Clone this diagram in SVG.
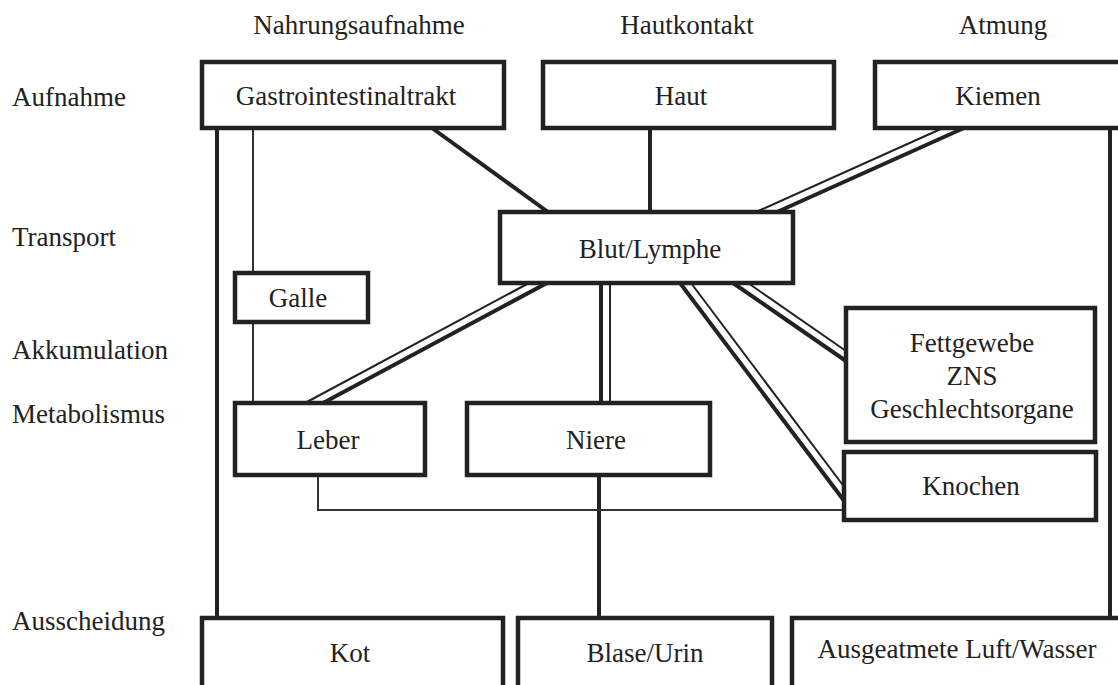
<svg xmlns="http://www.w3.org/2000/svg" width="1118" height="685" viewBox="0 0 1118 685">
<style>
text{font-family:"Liberation Serif","Times New Roman",serif;font-size:27px;fill:#222;}
.c{text-anchor:middle;}
.box{fill:#fff;stroke:#222;stroke-width:4.5;}
.thick{stroke:#222;stroke-width:4;fill:none;}
.thin{stroke:#333;stroke-width:2;fill:none;}
.dthin{stroke:#222;stroke-width:2;fill:none;}
</style>
<rect width="1118" height="685" fill="#fff"/>
<g id="labels">
<text class="c" x="359" y="34">Nahrungsaufnahme</text>
<text class="c" x="687" y="34">Hautkontakt</text>
<text class="c" x="1003" y="34">Atmung</text>
<text x="12" y="106">Aufnahme</text>
<text x="12" y="246">Transport</text>
<text x="12" y="359">Akkumulation</text>
<text x="12" y="423">Metabolismus</text>
<text x="12" y="630">Ausscheidung</text>
</g>
<g id="connectors">
<line class="thick" x1="217" y1="128" x2="217" y2="618"/>
<line class="thick" x1="1110" y1="128" x2="1110" y2="618"/>
<line class="thick" x1="599" y1="475" x2="599" y2="618"/>
<line class="thick" x1="650" y1="128" x2="650" y2="212"/>
<line class="thick" x1="432" y1="128" x2="548" y2="212"/>
<line class="thin" x1="253" y1="128" x2="253" y2="273"/>
<line class="thin" x1="253" y1="322" x2="253" y2="403"/>
<polyline class="thin" points="318,475 318,510 844,510"/>
<g id="kiemen-blut">
<line class="thick" x1="964" y1="128" x2="777" y2="212"/>
<line class="dthin" x1="943" y1="128" x2="756" y2="212"/>
</g>
<g id="blut-leber">
<line class="thick" x1="547" y1="283" x2="323" y2="403"/>
<line class="dthin" x1="529" y1="283" x2="305" y2="403"/>
</g>
<g id="blut-niere">
<line class="thick" x1="601" y1="283" x2="601" y2="403"/>
<line class="dthin" x1="610" y1="283" x2="610" y2="403"/>
</g>
<g id="blut-fett">
<line class="thick" x1="733" y1="283" x2="846" y2="361"/>
<line class="dthin" x1="748" y1="283" x2="846" y2="351"/>
</g>
<g id="blut-knochen">
<line class="thick" x1="680" y1="283" x2="845" y2="502"/>
<line class="dthin" x1="691" y1="283" x2="845" y2="488"/>
</g>
</g>
<g id="gastro"><rect class="box" x="202" y="62" width="302" height="66"/><text class="c" x="346" y="105">Gastrointestinaltrakt</text></g>
<g id="haut"><rect class="box" x="543" y="62" width="291" height="66"/><text class="c" x="681" y="105">Haut</text></g>
<g id="kiemen"><rect class="box" x="875" y="62" width="260" height="66"/><text class="c" x="998" y="105">Kiemen</text></g>
<g id="blut"><rect class="box" x="500" y="212" width="293" height="71"/><text class="c" x="650" y="258">Blut/Lymphe</text></g>
<g id="galle"><rect class="box" x="235" y="273" width="133" height="49"/><text class="c" x="298" y="307">Galle</text></g>
<g id="leber"><rect class="box" x="235" y="403" width="190" height="72"/><text class="c" x="328" y="449">Leber</text></g>
<g id="niere"><rect class="box" x="467" y="403" width="243" height="72"/><text class="c" x="596" y="449">Niere</text></g>
<g id="fett"><rect class="box" x="846" y="308" width="249" height="134"/>
<text class="c" x="972" y="352">Fettgewebe</text>
<text class="c" x="972" y="385">ZNS</text>
<text class="c" x="972" y="418">Geschlechtsorgane</text></g>
<g id="knochen"><rect class="box" x="844" y="452" width="252" height="68"/><text class="c" x="971" y="495">Knochen</text></g>
<g id="kot"><rect class="box" x="202" y="618" width="301" height="90"/><text class="c" x="350" y="662">Kot</text></g>
<g id="blase"><rect class="box" x="518" y="618" width="254" height="90"/><text class="c" x="645" y="662">Blase/Urin</text></g>
<g id="ausgeatmet"><rect class="box" x="792" y="618" width="350" height="90"/><text class="c" x="957" y="658">Ausgeatmete Luft/Wasser</text></g>
</svg>
